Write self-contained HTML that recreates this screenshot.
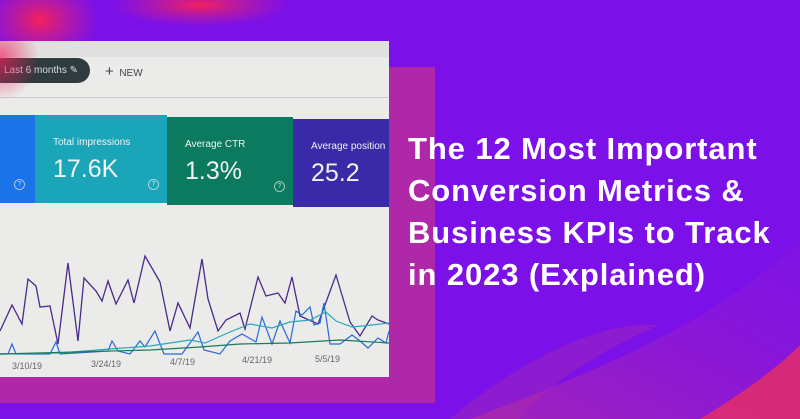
<!DOCTYPE html>
<html><head><style>
html,body{margin:0;padding:0}
body{width:800px;height:419px;overflow:hidden;background:#7b10e8;position:relative;font-family:"Liberation Sans",sans-serif}
.abs{position:absolute}
.title{left:408px;top:128px;color:#fff;font-weight:bold;font-size:31px;line-height:42px;letter-spacing:0.9px;white-space:nowrap}
.card{position:absolute;top:115px;height:88px;color:#f2f2f2}
.card .l{position:absolute;top:22px;left:18px;font-size:10px}
.card .v{position:absolute;top:40px;left:18px;font-size:25px}
.q{position:absolute;top:64px;width:9px;height:9px;border:1px solid rgba(255,255,255,.6);border-radius:50%;font-size:7px;text-align:center;line-height:9px;color:rgba(255,255,255,.7)}
.d{position:absolute;top:360px;font-size:9px;color:#666}
</style></head><body>
<svg class="abs" style="left:0;top:0" width="800" height="419">
<defs>
<linearGradient id="sw" x1="0" y1="1" x2="1" y2="0"><stop offset="0" stop-color="#d03a80"/><stop offset="1" stop-color="#a020c8" stop-opacity=".3"/></linearGradient>
<radialGradient id="pk" cx=".5" cy=".5" r=".5"><stop offset="0" stop-color="#f4205a"/><stop offset="1" stop-color="#d0208a" stop-opacity="0"/></radialGradient>
</defs>
<path d="M470 419 C600 370 720 320 800 240 L800 419Z" fill="url(#sw)" opacity=".45"/>
<path d="M700 419 C740 395 775 370 800 345 L800 419Z" fill="#e82e60" opacity=".8"/>
<path d="M450 419 C520 360 600 320 660 325 C600 350 540 390 520 419Z" fill="#b030a0" opacity=".35"/>
<ellipse cx="40" cy="20" rx="60" ry="45" fill="url(#pk)"/>
<ellipse cx="200" cy="5" rx="90" ry="22" fill="url(#pk)"/>
<ellipse cx="15" cy="75" rx="25" ry="30" fill="url(#pk)"/>
<rect x="0" y="67" width="435" height="336" fill="#ae28a8"/>
</svg>
<div class="abs" style="left:0;top:41px;width:389px;height:336px;background:#ebebea;overflow:hidden">
 <div class="abs" style="left:0;top:0;width:389px;height:16px;background:#e0e0e0"></div>
 <div class="abs" style="left:-10px;top:17px;width:100px;height:25px;background:#2e3b3f;border-radius:13px;color:#ddd;font-size:10px;line-height:25px;padding-left:14px;box-sizing:border-box">Last 6 months ✎</div>
 <div class="abs" style="left:105px;top:22px;font-size:10px;color:#444"><span style="font-size:15px">+</span>&nbsp; NEW</div>
 <div class="abs" style="left:0;top:56px;width:389px;height:1px;background:#ccc"></div>
 <div class="abs" style="left:0;top:0;width:40px;height:60px;background:radial-gradient(ellipse at 0 30%,rgba(240,30,90,.7),rgba(240,30,90,0) 70%)"></div>
 <div class="card" style="left:0;width:35px;background:#1a73e8;top:74px"><div class="q" style="left:14px">?</div></div>
 <div class="card" style="left:35px;width:132px;background:#1aa5b8;top:74px"><div class="l">Total impressions</div><div class="v">17.6K</div><div class="q" style="left:113px">?</div></div>
 <div class="card" style="left:167px;width:126px;background:#0c7a5e;top:76px"><div class="l">Average CTR</div><div class="v">1.3%</div><div class="q" style="left:107px">?</div></div>
 <div class="card" style="left:293px;width:96px;background:#3a2aa8;top:78px"><div class="l">Average position</div><div class="v">25.2</div></div>
 <svg class="abs" style="left:0;top:0" width="389" height="336">
  <polyline fill="none" stroke="#4a2a8a" stroke-width="1.3" points="0,290 12,264 22,283 28,238 36,245 40,266 50,265 58,303 68,222 78,300 84,237 96,250 102,260 108,240 116,263 128,239 134,262 145,215 160,241 170,290 178,262 190,287 202,218 208,258 218,290 226,279 240,272 245,288 258,236 266,255 278,252 285,262 292,236 300,275 318,283 336,234 350,281 360,295 372,275 378,279 389,283"/>
  <polyline fill="none" stroke="#2a6ad8" stroke-width="1.2" points="0,313 8,313 12,303 16,313 50,313 56,301 60,313 108,310 112,300 118,310 130,313 140,300 145,306 155,290 164,313 175,313 182,313 198,291 204,309 220,313 230,300 242,293 256,301 262,276 272,303 280,280 290,302 296,270 302,274 310,266 314,284 320,282 324,262 330,303 340,303 352,294 360,300 368,307 378,297 386,302 389,290"/>
  <polyline fill="none" stroke="#2aa8b8" stroke-width="1.2" points="0,313 60,312 110,308 150,305 190,299 205,302 230,291 250,283 272,287 290,281 310,279 326,271 336,280 352,286 372,284 389,282"/>
  <polyline fill="none" stroke="#1a7a5a" stroke-width="1.2" points="0,313 150,309 200,306 240,303 290,302 340,299 389,302"/>
 </svg>
 <div class="d" style="left:12px;top:320px">3/10/19</div>
 <div class="d" style="left:91px;top:318px">3/24/19</div>
 <div class="d" style="left:170px;top:316px">4/7/19</div>
 <div class="d" style="left:242px;top:314px">4/21/19</div>
 <div class="d" style="left:315px;top:313px">5/5/19</div>
</div>
<div class="abs title">The 12 Most Important<br>Conversion Metrics &amp;<br>Business KPIs to Track<br>in 2023 (Explained)</div>
</body></html>
